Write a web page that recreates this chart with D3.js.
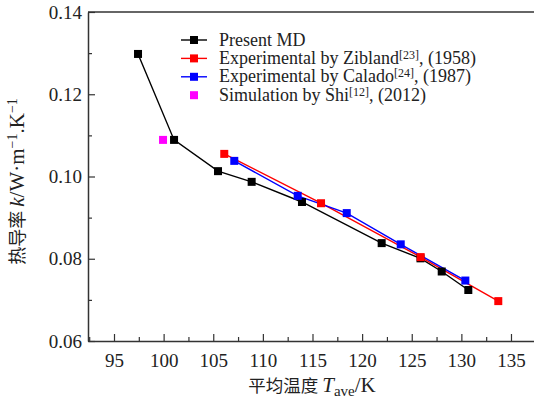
<!DOCTYPE html>
<html lang="en">
<head>
<meta charset="utf-8">
<script src="https://cdn.jsdelivr.net/npm/d3@7"></script>
<style>
  body { margin: 0; background: #fff; }
</style>
</head>
<body>
<div id="chart"></div>
<script>
// chart data
var presentT = [97.42, 101.05, 105.48, 108.87, 113.94, 121.97, 125.88, 128.02, 130.70];
var presentK = [0.1298, 0.1089, 0.1013, 0.0987, 0.0938, 0.0838, 0.0801, 0.0769, 0.0724];
var ziblandT = [106.11, 115.86, 125.90, 133.72];
var ziblandK = [0.1055, 0.0935, 0.0804, 0.0697];
var caladoT = [107.12, 113.51, 118.45, 123.89, 130.40];
var caladoK = [0.1038, 0.0953, 0.0911, 0.0835, 0.0747];
var shiT = [99.94];
var shiK = [0.1089];
var xTicks = [95, 100, 105, 110, 115, 120, 125, 130, 135];
var yTicks = [0.06, 0.08, 0.10, 0.12, 0.14];

var width = 534;
var height = 403;
var margin = {left: 88, top: 12, right: -2, bottom: 62};
var serif = "\"Liberation Serif\", Tinos, \"Times New Roman\", serif";
var cjk = "\"Noto Sans CJK SC\", sans-serif";

var svg = d3.select("#chart")
  .append("svg")
    .attr("width", width)
    .attr("height", height);

var x = d3.scaleLinear()
  .domain([92.38, 137.52])
  .range([margin.left, width - margin.right]);

var y = d3.scaleLinear()
  .domain([0.06, 0.14])
  .range([height - margin.bottom, margin.top]);

function zip(a, b) { return a.map(function(v, i) { return {t: v, k: b[i]}; }); }

var series = [
  {name: "present", color: "#000000", line: true, pts: zip(presentT, presentK)},
  {name: "zibland", color: "#ff0000", line: true, pts: zip(ziblandT, ziblandK)},
  {name: "calado", color: "#0000ff", line: true, pts: zip(caladoT, caladoK)},
  {name: "shi", color: "#ff00ff", line: false, pts: zip(shiT, shiK)}
];

// set the font both as attribute and as inline style
function font(sel, fam, size) {
  sel.attr("font-family", fam).style("font-family", fam);
  if (size) sel.attr("font-size", size).style("font-size", size + "px");
  return sel;
}

// axes, ticks pointing inside
var xMinor = d3.range(92.5, 137.6, 2.5).filter(function(v) { return v % 5 !== 0; });
var yMinor = [0.07, 0.09, 0.11, 0.13];

var gx = svg.append("g")
  .attr("transform", "translate(0," + (height - margin.bottom) + ")")
  .call(d3.axisBottom(x).tickValues(xTicks).tickSizeInner(-7).tickSizeOuter(0).tickPadding(13).tickFormat(d3.format("d")));
svg.append("g")
  .attr("transform", "translate(0," + (height - margin.bottom) + ")")
  .call(d3.axisBottom(x).tickValues(xMinor).tickSize(-4).tickFormat(""))
  .select(".domain").remove();

var gy = svg.append("g")
  .attr("transform", "translate(" + margin.left + ",0)")
  .call(d3.axisLeft(y).tickValues(yTicks).tickSizeInner(-7).tickSizeOuter(0).tickPadding(6).tickFormat(d3.format(".2f")));
svg.append("g")
  .attr("transform", "translate(" + margin.left + ",0)")
  .call(d3.axisLeft(y).tickValues(yMinor).tickSize(-4).tickFormat(""))
  .select(".domain").remove();

// top frame
svg.append("line")
  .attr("x1", margin.left).attr("x2", width)
  .attr("y1", margin.top).attr("y2", margin.top)
  .attr("stroke", "#333").attr("stroke-width", 1.5);

svg.selectAll(".domain").attr("stroke", "#333").attr("stroke-width", 1.5);
svg.selectAll(".tick line").attr("stroke", "#333").attr("stroke-width", 1.2);
font(gx.selectAll(".tick text"), serif, 19).attr("fill", "#222");
font(gy.selectAll(".tick text"), serif, 19).attr("fill", "#222");

// series
var line = d3.line().x(function(d) { return x(d.t); }).y(function(d) { return y(d.k); });
var ms = 8;

series.forEach(function(s) {
  if (s.line) {
    svg.append("path")
      .datum(s.pts)
      .attr("d", line)
      .attr("fill", "none")
      .attr("stroke", s.color)
      .attr("stroke-width", 1.4);
  }
});
series.forEach(function(s) {
  svg.append("g").selectAll("rect")
    .data(s.pts)
    .enter()
    .append("rect")
      .attr("x", function(d) { return x(d.t) - ms / 2; })
      .attr("y", function(d) { return y(d.k) - ms / 2; })
      .attr("width", ms)
      .attr("height", ms)
      .attr("fill", s.color);
});

// legend
var legendItems = [
  {color: "#000000", line: true, parts: [["Present MD", false]]},
  {color: "#ff0000", line: true, parts: [["Experimental by Zibland", false], ["[23]", true], [", (1958)", false]]},
  {color: "#0000ff", line: true, parts: [["Experimental by Calado", false], ["[24]", true], [", (1987)", false]]},
  {color: "#ff00ff", line: false, parts: [["Simulation by Shi", false], ["[12]", true], [", (2012)", false]]}
];

var legend = svg.append("g").attr("transform", "translate(181,40)");
legendItems.forEach(function(item, i) {
  var row = legend.append("g").attr("transform", "translate(0," + (i * 18.4) + ")");
  if (item.line) {
    row.append("line").attr("x1", 0).attr("x2", 26).attr("y1", 0).attr("y2", 0)
      .attr("stroke", item.color).attr("stroke-width", 1.4);
  }
  row.append("rect").attr("x", 13 - ms / 2).attr("y", -ms / 2).attr("width", ms).attr("height", ms)
    .attr("fill", item.color);
  var t = font(row.append("text").attr("x", 38).attr("y", 5.5), serif, 18).attr("fill", "#222");
  item.parts.forEach(function(p) {
    if (p[1]) {
      font(t.append("tspan").attr("dy", -5), serif, 12).text(p[0]);
    } else {
      var sp = font(t.append("tspan"), serif).text(p[0]);
      if (p[0].charAt(0) === ",") sp.attr("dy", 5);
    }
  });
});

// axis titles
var xt = font(svg.append("text")
  .attr("x", (margin.left + 536) / 2)
  .attr("y", 392)
  .attr("text-anchor", "middle"), serif, 21)
  .attr("fill", "#222");
font(xt.append("tspan"), cjk, 17.5).text("平均温度 ");
font(xt.append("tspan"), serif).style("font-style", "italic").text("T");
font(xt.append("tspan").attr("dy", 4), serif, 15).text("ave");
font(xt.append("tspan").attr("dy", -4), serif).text("/K");

var yt = font(svg.append("text")
  .attr("transform", "translate(24," + ((margin.top + height - margin.bottom) / 2 + 5) + ") rotate(-90)")
  .attr("text-anchor", "middle"), serif, 21)
  .attr("fill", "#222");
font(yt.append("tspan"), cjk, 18).text("热导率 ");
font(yt.append("tspan"), serif).style("font-style", "italic").text("k");
font(yt.append("tspan"), serif).text("/W·m");
font(yt.append("tspan").attr("dy", -7), serif, 14).text("−1");
font(yt.append("tspan").attr("dy", 7), serif).text(".K");
font(yt.append("tspan").attr("dy", -7), serif, 14).text("−1");
</script>
</body>
</html>
